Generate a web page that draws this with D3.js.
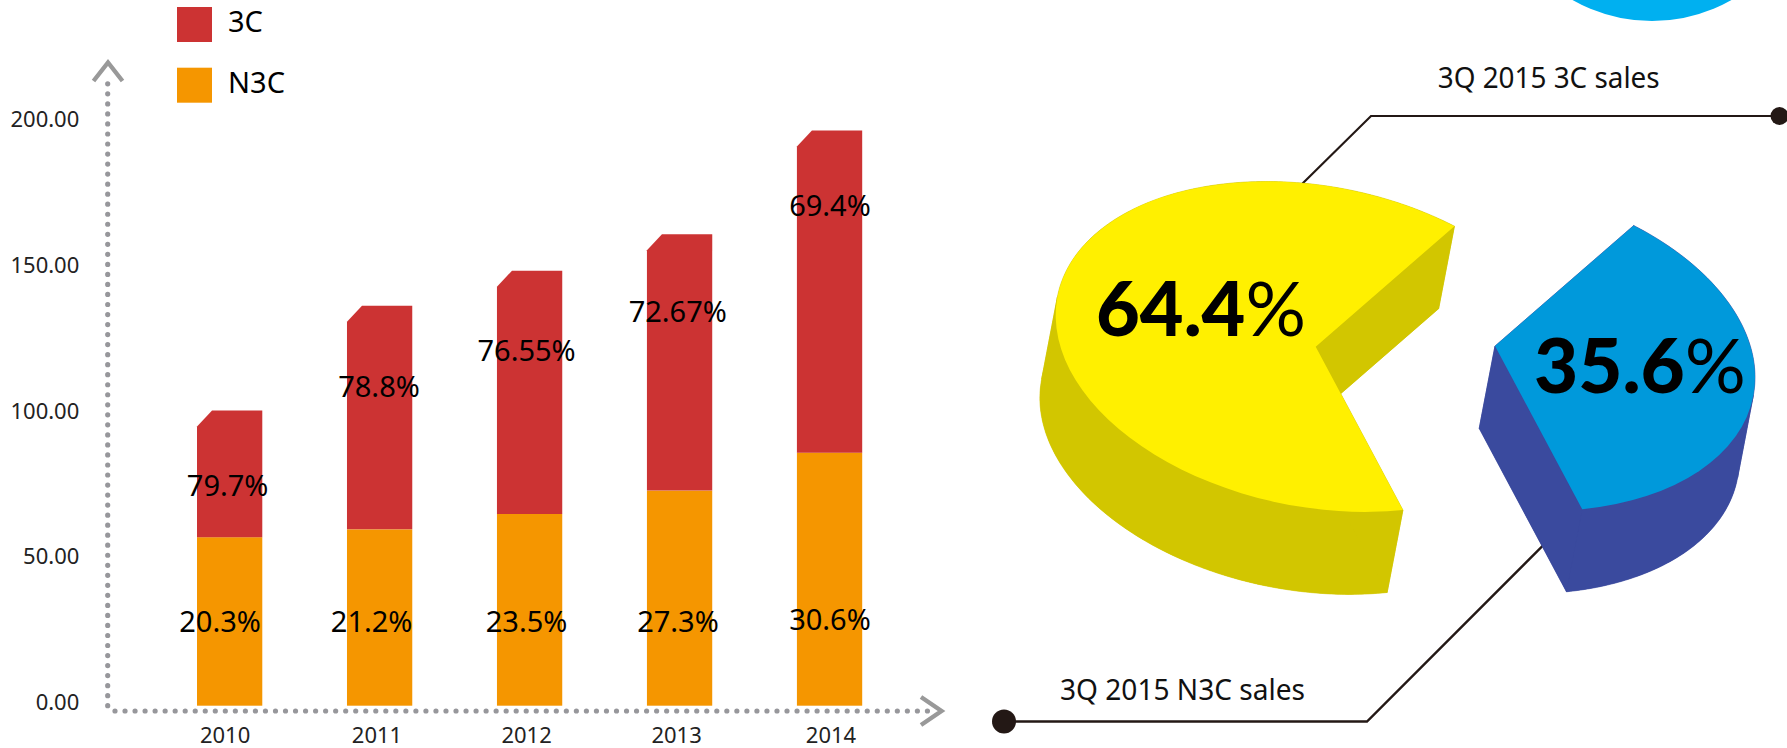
<!DOCTYPE html>
<html><head><meta charset="utf-8">
<style>html,body{margin:0;padding:0;background:#fff;overflow:hidden}svg{display:block}text{font-family:"Noto Sans",sans-serif}</style>
<script src="https://cdnjs.cloudflare.com/ajax/libs/d3/7.8.5/d3.min.js"></script>
</head><body><svg id="c" width="1787" height="748"></svg>
<script>
// ---- data
const years = ["2010","2011","2012","2013","2014"];
const n3cValues = [57.8,60.5,65.8,73.8,86.8];
const c3Values = [43.5,76.7,83.4,87.9,110.5];
const n3cLabels = ["20.3%","21.2%","23.5%","27.3%","30.6%"];
const c3Labels = ["79.7%","78.8%","76.55%","72.67%","69.4%"];
const yTicks = [0,50,100,150,200];
const seriesNames = ["3C","N3C"];
const pieNames = ["3Q 2015 3C sales","3Q 2015 N3C sales"];
const pieValues = [64.4,35.6];
const pieLabels = ["64.4%","35.6%"];

// ---- hand placement of the reference's labels (pixel nudges, value-space heights)
const c3LabelDx = [-2,-0.6,-3,-1.8,0.4];
const c3LabelAt = [75.4,109.5,122,135.3,171.6];
const n3cLabelDx = [-9.6,-8,-3,-1.6,0.4];
const n3cLabelAt = [29,29,29,29,29.6];
const yearDx = [-4.6,-2.6,-3,-3,1.4];

const svg = d3.select("#c");
const RED="#CC3333", ORANGE="#F59600", GREY="#97979b", INK="#231815";

const x = d3.scaleBand().domain(years).range([197,862.2]).paddingInner(0.5647).paddingOuter(0);
const y = d3.scaleLinear().domain([0,200]).range([705.7,122.7]);

// dotted axes
const dotted = g=>g.attr("fill","none").attr("stroke",GREY).attr("stroke-width",5.2)
  .attr("stroke-linecap","round").attr("stroke-dasharray","0 10.03");
svg.append("line").attr("x1",107.7).attr("x2",107.7).attr("y1",705.7).attr("y2",74).call(dotted);
svg.append("line").attr("x1",115).attr("x2",936).attr("y1",711).attr("y2",711).call(dotted);
const chevron = d3.line();
svg.append("path").attr("d",chevron([[93.5,81],[108,62.5],[122.5,81]])).attr("fill","none").attr("stroke","#999").attr("stroke-width",4.4);
svg.append("path").attr("d",chevron([[921,697],[941.5,711],[921,725]])).attr("fill","none").attr("stroke","#999").attr("stroke-width",4.4);

// tick labels via d3 axes
const axisY = svg.append("g").attr("transform","translate(79.3,0)")
  .call(d3.axisLeft(y).tickValues(yTicks).tickSize(0).tickPadding(0).tickFormat(d3.format(".2f")));
axisY.select(".domain").remove();
axisY.selectAll("text").attr("font-size",22).attr("fill","#222").attr("font-family",'"Noto Sans",sans-serif').attr("dy","0.32em").attr("y",-3);

const axisX = svg.append("g").attr("transform","translate(0,720)")
  .call(d3.axisBottom(x).tickSize(0).tickPadding(0));
axisX.select(".domain").remove();
axisX.selectAll("text").attr("font-size",22).attr("fill","#222").attr("font-family",'"Noto Sans",sans-serif')
  .attr("dx",(d,i)=>yearDx[i]).attr("dy","0.71em").attr("y",7);

// stacked bars
const stackRows = years.map((yr,i)=>({year:yr,N3C:n3cValues[i],"3C":c3Values[i]}));
const stacked = d3.stack().keys(["N3C","3C"])(stackRows);
const chamfer = 15;
const barG = svg.append("g");
barG.selectAll("rect.n").data(stacked[0]).join("rect").attr("class","n")
  .attr("x",d=>x(d.data.year)).attr("width",x.bandwidth())
  .attr("y",d=>y(d[1])).attr("height",d=>y(d[0])-y(d[1])).attr("fill",ORANGE);
barG.selectAll("path.c").data(stacked[1]).join("path").attr("class","c").attr("fill",RED)
  .attr("d",d=>{
    const l=x(d.data.year), r=l+x.bandwidth(), t=y(d[1]), b=y(d[0]);
    return d3.line()([[l,b],[l,t+chamfer+1],[l+chamfer,t],[r,t],[r,b]])+"Z";
  });

// percent labels
const pct = (sel,labels,at,dx)=>sel.selectAll(null).data(years).join("text")
  .attr("x",d=>x(d)+x.bandwidth()/2).attr("dx",(d,i)=>dx[i])
  .attr("y",(d,i)=>y(at[i])).attr("dy","0.36em")
  .attr("text-anchor","middle").attr("font-size",29).attr("fill","#000").text((d,i)=>labels[i]);
pct(svg.append("g"),c3Labels,c3LabelAt,c3LabelDx);
pct(svg.append("g"),n3cLabels,n3cLabelAt,n3cLabelDx);

// legend
const lg = svg.append("g").selectAll("g").data(seriesNames).join("g")
  .attr("transform",(d,i)=>`translate(177,${7+i*60.7})`);
lg.append("rect").attr("width",35).attr("height",35).attr("fill",(d,i)=>i?ORANGE:RED);
lg.append("text").attr("x",51).attr("y",25).attr("font-size",29).attr("fill","#000").text(d=>d);

// decorative circle cut off at the top of the picture
svg.append("circle").attr("cx",1652).attr("cy",-140).attr("r",161).attr("fill","#00B0F0");

// leader lines
const leader = d3.line();
svg.append("path").attr("d",leader([[1300,186],[1371,116],[1780,116]])).attr("fill","none").attr("stroke",INK).attr("stroke-width",2.2);
svg.append("path").attr("d",leader([[1004,721.5],[1367,721.5],[1560,528.5]])).attr("fill","none").attr("stroke",INK).attr("stroke-width",2.4);
svg.append("circle").attr("cx",1779.5).attr("cy",116).attr("r",9).attr("fill",INK);
svg.append("circle").attr("cx",1004).attr("cy",721.5).attr("r",12).attr("fill",INK);

svg.append("text").attr("x",1437.7).attr("y",88.3).attr("font-size",29).attr("fill","#111")
  .attr("textLength",222).attr("lengthAdjust","spacingAndGlyphs").text(pieNames[0]);
svg.append("text").attr("x",1060).attr("y",700).attr("font-size",29).attr("fill","#111")
  .attr("textLength",245).attr("lengthAdjust","spacingAndGlyphs").text(pieNames[1]);

// 3D exploded pie: one d3.pie, skewed by a matrix and swept downward for its wall
const R = 100;
const L = {a:260/R, c:31.3/R, d:162.2/R};
const depth = {x:-15.8, y:82.5};
const A0 = 160.4*Math.PI/180;
const pie = d3.pie().sort(null).startAngle(A0).endAngle(A0+2*Math.PI)(pieValues);
const arc = d3.arc().innerRadius(0).outerRadius(R);
const pieStyle = [
  {cx:1315.7,cy:346.7,top:"#FFF000",side:"#D2C600"},
  {cx:1495,cy:346,top:"#0099DB",side:"#3A4A9E"}
];
pie.forEach((s,i)=>{
  const st = pieStyle[i];
  const proj = a=>[st.cx + L.a*R*Math.sin(a), st.cy + L.c*R*Math.sin(a) - L.d*R*Math.cos(a)];
  const mat = `matrix(${L.a},${L.c},0,${L.d},${st.cx},${st.cy})`;
  const g = svg.append("g");
  const rim = d3.range(s.startAngle,s.endAngle,0.01).concat([s.endAngle]).map(proj);
  const centre=[st.cx,st.cy];
  const drop = p=>[p[0]+depth.x,p[1]+depth.y];
  // split the rim where its tangent runs along the sweep, so each wall polygon is simple
  const runs=[]; let run=[rim[0]], sign=null;
  for(let k=1;k<rim.length;k++){
    const dx=rim[k][0]-rim[k-1][0], dy=rim[k][1]-rim[k-1][1];
    const sg=Math.sign(dx*depth.y-dy*depth.x);
    if(sign!==null && sg!==sign){runs.push(run); run=[rim[k-1]];}
    sign=sg; run.push(rim[k]);
  }
  runs.push(run);
  const walls = runs.map(r=>r.concat(r.slice().reverse().map(drop))).concat([
    [centre,rim[0],drop(rim[0]),drop(centre)],
    [centre,rim[rim.length-1],drop(rim[rim.length-1]),drop(centre)]
  ]);
  g.append("path").attr("transform",`translate(${depth.x},${depth.y}) ${mat}`).attr("d",arc(s)).attr("fill",st.side);
  g.selectAll("path.w").data(walls).join("path").attr("class","w")
    .attr("d",w=>d3.line()(w)+"Z").attr("fill",st.side).attr("stroke",st.side).attr("stroke-width",0.6);
  g.append("path").attr("transform",mat).attr("d",arc(s)).attr("fill",st.top);
});

// big percentages, light % sign
const big = (t,xx,yy,len)=>{
  const el = svg.append("text").attr("x",xx).attr("y",yy).attr("font-size",76).attr("fill","#000")
    .attr("textLength",len).attr("lengthAdjust","spacingAndGlyphs").style("font-family","Lato, sans-serif");
  el.append("tspan").attr("font-weight",900).text(t.slice(0,-1));
  el.append("tspan").attr("font-weight",400).text("%");
};
big(pieLabels[0],1096,336,210);
big(pieLabels[1],1534,393,212);
</script></body></html>
